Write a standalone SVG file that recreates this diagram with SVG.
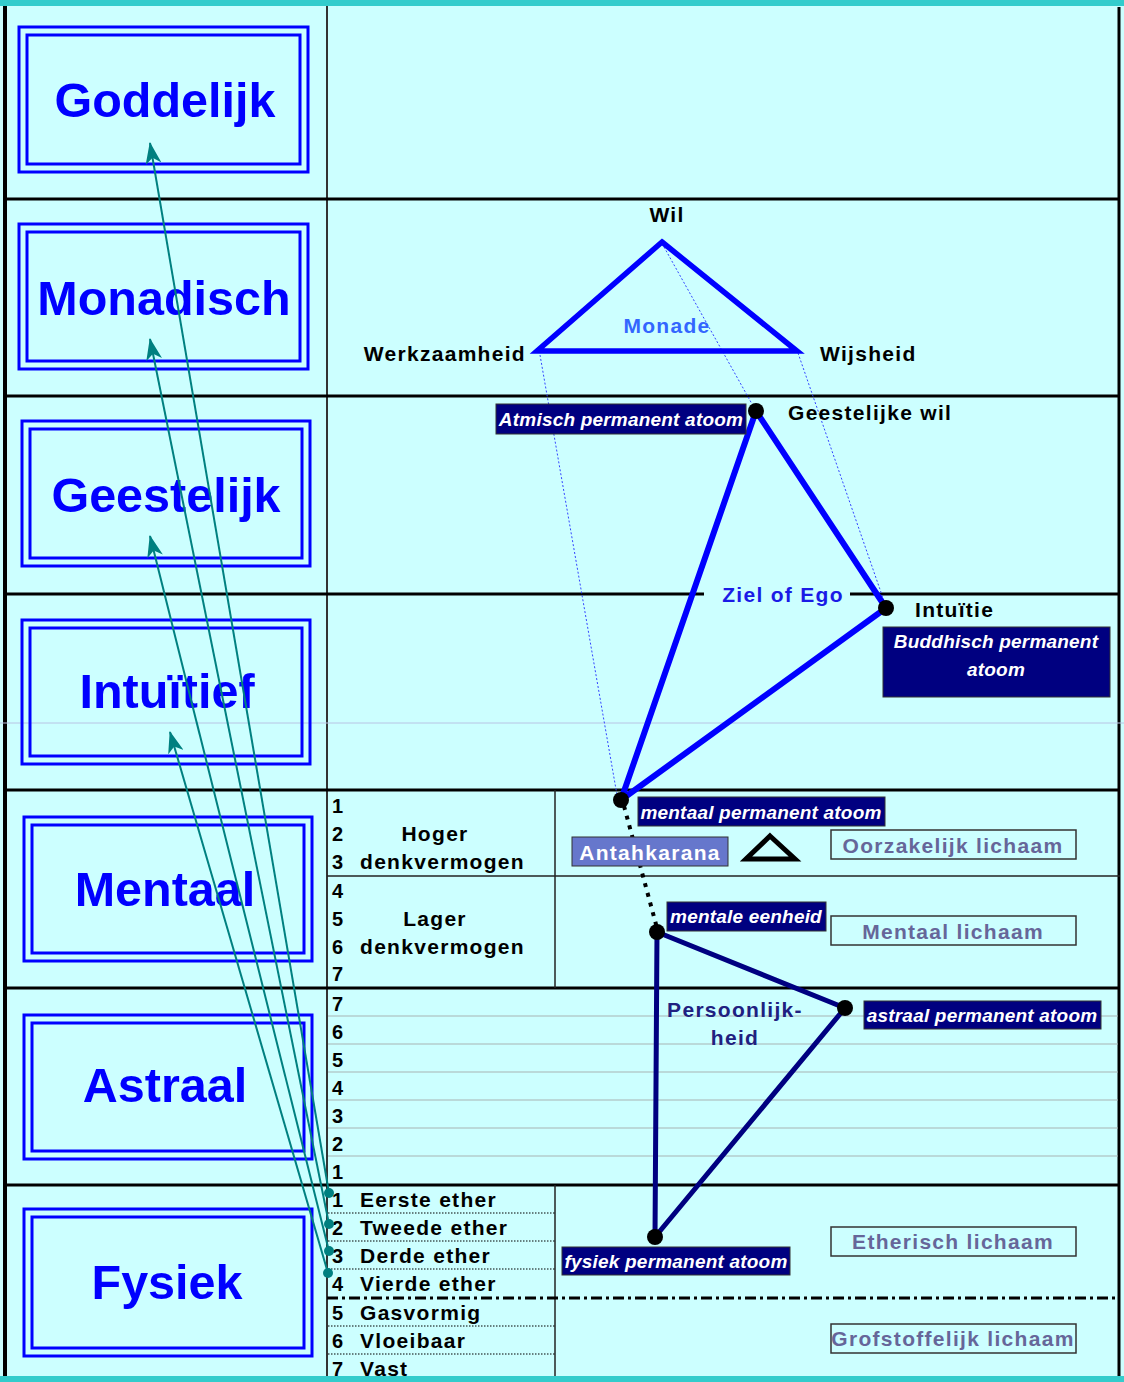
<svg xmlns="http://www.w3.org/2000/svg" width="1124" height="1382" viewBox="0 0 1124 1382">
<style>
text{font-family:"Liberation Sans",Arial,sans-serif;font-weight:bold}
.big{font-size:48.5px;fill:#0000FF;text-anchor:middle}
.lbl{font-size:21px;fill:#000;letter-spacing:1.3px}
.num{font-size:20px;fill:#000}
.nv{font-size:19px;fill:#fff;font-style:italic;text-anchor:middle;letter-spacing:0.2px}
.body{font-size:21px;fill:#666699;text-anchor:middle;letter-spacing:1.3px}
.rowline{stroke:#000;stroke-width:3}
.thin{stroke:#222;stroke-width:1.5}
.gray{stroke:#A8B4B4;stroke-width:1.2}
.dots{stroke:#000;stroke-width:1;stroke-dasharray:1.5 1.5}
.boxo{fill:none;stroke:#0000FF;stroke-width:3}
.navy{fill:#000080;stroke:#333;stroke-width:1}
.bbox{fill:none;stroke:#333;stroke-width:1.5}
.proj{stroke:#3344FF;stroke-width:1;stroke-dasharray:2 2;fill:none}
.arrow{stroke:#008080;stroke-width:2;fill:none;marker-end:url(#ah)}
.dot{fill:#000}
</style>
<defs>
<marker id="ah" viewBox="0 0 22 16" refX="21" refY="8" markerWidth="22" markerHeight="16" markerUnits="userSpaceOnUse" orient="auto">
<path d="M0,0 L22,8 L0,16 L6,8 Z" fill="#008080"/>
</marker>
</defs>
<rect x="0" y="0" width="1124" height="1382" fill="#CCFFFF"/>
<rect x="0" y="0" width="1124" height="6" fill="#33CCCC"/>
<rect x="0" y="1376" width="1124" height="6" fill="#33CCCC"/>

<g id="grid">
<line x1="5" y1="6" x2="5" y2="1376" stroke="#000" stroke-width="4"/>
<line x1="1119" y1="7" x2="1119" y2="1376" stroke="#000" stroke-width="3"/>
<line x1="327" y1="6" x2="327" y2="1376" stroke="#333" stroke-width="2"/>
<line x1="0" y1="723" x2="1124" y2="723" stroke="#B8C4E4" stroke-width="1"/>
<line class="rowline" x1="5" y1="199" x2="1120" y2="199"/>
<line class="rowline" x1="5" y1="396" x2="1120" y2="396"/>
<line class="rowline" x1="5" y1="594" x2="704" y2="594"/>
<line class="rowline" x1="850" y1="594" x2="1120" y2="594"/>
<line class="rowline" x1="5" y1="790" x2="1120" y2="790"/>
<line class="rowline" x1="5" y1="988" x2="1120" y2="988"/>
<line class="rowline" x1="5" y1="1185" x2="1120" y2="1185"/>
<line class="thin" x1="555" y1="790" x2="555" y2="988"/>
<line class="thin" x1="327" y1="876" x2="1120" y2="876"/>
<line class="gray" x1="328" y1="1016" x2="1118" y2="1016"/>
<line class="gray" x1="328" y1="1044" x2="1118" y2="1044"/>
<line class="gray" x1="328" y1="1072" x2="1118" y2="1072"/>
<line class="gray" x1="328" y1="1100" x2="1118" y2="1100"/>
<line class="gray" x1="328" y1="1128" x2="1118" y2="1128"/>
<line class="gray" x1="328" y1="1156" x2="1118" y2="1156"/>
<line class="thin" x1="555" y1="1185" x2="555" y2="1376"/>
<line class="dots" x1="328" y1="1213" x2="555" y2="1213"/>
<line class="dots" x1="328" y1="1241" x2="555" y2="1241"/>
<line class="dots" x1="328" y1="1269" x2="555" y2="1269"/>
<line class="dots" x1="328" y1="1326" x2="555" y2="1326"/>
<line class="dots" x1="328" y1="1354" x2="555" y2="1354"/>
<line x1="327" y1="1298" x2="1118" y2="1298" stroke="#000" stroke-width="3" stroke-dasharray="11 4 3 4"/>
</g>

<g id="plane-goddelijk"><rect class="boxo" x="19" y="27" width="289" height="145"/><rect class="boxo" x="27" y="35" width="273" height="129"/><text class="big" x="165" y="117">Goddelijk</text></g>
<g id="plane-monadisch"><rect class="boxo" x="19" y="224" width="289" height="145"/><rect class="boxo" x="27" y="232" width="273" height="129"/><text class="big" x="164" y="315">Monadisch</text></g>
<g id="plane-geestelijk"><rect class="boxo" x="22" y="421" width="288" height="145"/><rect class="boxo" x="30" y="429" width="272" height="129"/><text class="big" x="166" y="512">Geestelijk</text></g>
<g id="plane-intuitief"><rect class="boxo" x="22" y="620" width="288" height="144"/><rect class="boxo" x="30" y="628" width="272" height="128"/><text class="big" x="167" y="708">Intuïtief</text></g>
<g id="plane-mentaal"><rect class="boxo" x="24" y="817" width="288" height="144"/><rect class="boxo" x="32" y="825" width="272" height="128"/><text class="big" x="165" y="906">Mentaal</text></g>
<g id="plane-astraal"><rect class="boxo" x="24" y="1015" width="288" height="144"/><rect class="boxo" x="32" y="1023" width="272" height="128"/><text class="big" x="165" y="1102">Astraal</text></g>
<g id="plane-fysiek"><rect class="boxo" x="24" y="1209" width="288" height="147"/><rect class="boxo" x="32" y="1217" width="272" height="131"/><text class="big" x="167" y="1299">Fysiek</text></g>

<g id="mental-labels">
<text class="num" x="332" y="813">1</text>
<text class="num" x="332" y="841">2</text>
<text class="num" x="332" y="869">3</text>
<text class="num" x="332" y="898" font-weight="normal">4</text>
<text class="num" x="332" y="926">5</text>
<text class="num" x="332" y="954">6</text>
<text class="num" x="332" y="981">7</text>
<text class="lbl" x="435" y="841" text-anchor="middle">Hoger</text>
<text class="lbl" x="360" y="869">denkvermogen</text>
<text class="lbl" x="435" y="926" text-anchor="middle">Lager</text>
<text class="lbl" x="360" y="954">denkvermogen</text>
</g>
<g id="astral-labels">
<text class="num" x="332" y="1011">7</text>
<text class="num" x="332" y="1039">6</text>
<text class="num" x="332" y="1067">5</text>
<text class="num" x="332" y="1095">4</text>
<text class="num" x="332" y="1123">3</text>
<text class="num" x="332" y="1151">2</text>
<text class="num" x="332" y="1179">1</text>
</g>
<g id="physical-labels">
<text class="num" x="332" y="1207">1</text><text class="lbl" x="360" y="1207">Eerste ether</text>
<text class="num" x="332" y="1235">2</text><text class="lbl" x="360" y="1235">Tweede ether</text>
<text class="num" x="332" y="1263">3</text><text class="lbl" x="360" y="1263">Derde ether</text>
<text class="num" x="332" y="1291">4</text><text class="lbl" x="360" y="1291">Vierde ether</text>
<text class="num" x="332" y="1320">5</text><text class="lbl" x="360" y="1320">Gasvormig</text>
<text class="num" x="332" y="1348">6</text><text class="lbl" x="360" y="1348">Vloeibaar</text>
<text class="num" x="332" y="1376">7</text><text class="lbl" x="360" y="1376">Vast</text>
</g>

<g id="projections">
<line class="proj" x1="540" y1="355" x2="617" y2="795"/>
<line class="proj" x1="664" y1="247" x2="752" y2="404"/>
<line class="proj" x1="798" y1="353" x2="884" y2="601"/>
</g>

<g id="monade">
<polygon points="662,242 797,351 537,351" fill="none" stroke="#0000FF" stroke-width="5.5" stroke-linejoin="miter"/>
<text class="lbl" x="667" y="222" text-anchor="middle">Wil</text>
<text class="lbl" x="526" y="361" text-anchor="end">Werkzaamheid</text>
<text class="lbl" x="820" y="361">Wijsheid</text>
<text class="lbl" x="667" y="333" text-anchor="middle" style="fill:#3366FF">Monade</text>
</g>

<g id="ziel">
<polyline points="756,411 886,608 621,800 756,411" fill="none" stroke="#0000FF" stroke-width="6" stroke-linejoin="round"/>
<text class="lbl" x="783" y="602" text-anchor="middle" style="fill:#1A1AE6">Ziel of Ego</text>
<text class="lbl" x="788" y="420">Geestelijke wil</text>
<text class="lbl" x="915" y="617">Intuïtie</text>
</g>

<g id="antahkarana-line">
<line x1="624" y1="806" x2="657" y2="928" stroke="#000" stroke-width="4" stroke-dasharray="4 6"/>
</g>

<g id="persoonlijkheid">
<polyline points="657,932 845,1008 655,1237 657,932" fill="none" stroke="#000080" stroke-width="5" stroke-linejoin="round"/>
<text class="lbl" x="735" y="1017" text-anchor="middle" style="fill:#202080">Persoonlijk-</text>
<text class="lbl" x="735" y="1045" text-anchor="middle" style="fill:#202080">heid</text>
</g>

<g id="dots">
<circle class="dot" cx="756" cy="411" r="8"/>
<circle class="dot" cx="886" cy="608" r="8"/>
<circle class="dot" cx="621" cy="800" r="8"/>
<circle class="dot" cx="657" cy="932" r="8"/>
<circle class="dot" cx="845" cy="1008" r="8"/>
<circle class="dot" cx="655" cy="1237" r="8"/>
</g>

<g id="atmisch-atoom"><rect class="navy" x="496" y="404" width="250" height="30"/><text class="nv" x="621" y="426">Atmisch permanent atoom</text></g>
<g id="buddhisch-atoom"><rect class="navy" x="883" y="627" width="227" height="70"/><text class="nv" x="996" y="648">Buddhisch permanent</text><text class="nv" x="996" y="676">atoom</text></g>
<g id="mentaal-atoom"><rect class="navy" x="638" y="797" width="247" height="29"/><text class="nv" x="761" y="819">mentaal permanent atoom</text></g>
<g id="antahkarana"><rect x="572" y="837" width="156" height="29" fill="#6677CC" stroke="#333" stroke-width="1"/><text class="body" x="650" y="860" style="fill:#fff">Antahkarana</text></g>
<g id="triangle-symbol"><polygon points="770,836 795,859 746,859" fill="none" stroke="#000" stroke-width="5" stroke-linejoin="miter"/></g>
<g id="oorzakelijk"><rect class="bbox" x="831" y="830" width="245" height="29"/><text class="body" x="953" y="853">Oorzakelijk lichaam</text></g>
<g id="mentale-eenheid"><rect class="navy" x="667" y="902" width="159" height="29"/><text class="nv" x="746" y="923">mentale eenheid</text></g>
<g id="mentaal-lichaam"><rect class="bbox" x="831" y="916" width="245" height="29"/><text class="body" x="953" y="939">Mentaal lichaam</text></g>
<g id="astraal-atoom"><rect class="navy" x="864" y="1001" width="237" height="28"/><text class="nv" x="982" y="1022">astraal permanent atoom</text></g>
<g id="fysiek-atoom"><rect class="navy" x="562" y="1247" width="228" height="28"/><text class="nv" x="676" y="1268">fysiek permanent atoom</text></g>
<g id="etherisch"><rect class="bbox" x="831" y="1227" width="245" height="29"/><text class="body" x="953" y="1249">Etherisch lichaam</text></g>
<g id="grofstoffelijk"><rect class="bbox" x="831" y="1324" width="245" height="29"/><text class="body" x="953" y="1346" letter-spacing="1">Grofstoffelijk lichaam</text></g>

<g id="connectors">
<line class="arrow" x1="329" y1="1193" x2="150" y2="143"/>
<line class="arrow" x1="329" y1="1224" x2="150" y2="339"/>
<line class="arrow" x1="329" y1="1251" x2="150" y2="536"/>
<line class="arrow" x1="328" y1="1273" x2="170" y2="732"/>
<circle cx="329" cy="1193" r="5" fill="#008080"/>
<circle cx="329" cy="1224" r="5" fill="#008080"/>
<circle cx="329" cy="1251" r="5" fill="#008080"/>
<circle cx="328" cy="1273" r="5" fill="#008080"/>
</g>
</svg>
